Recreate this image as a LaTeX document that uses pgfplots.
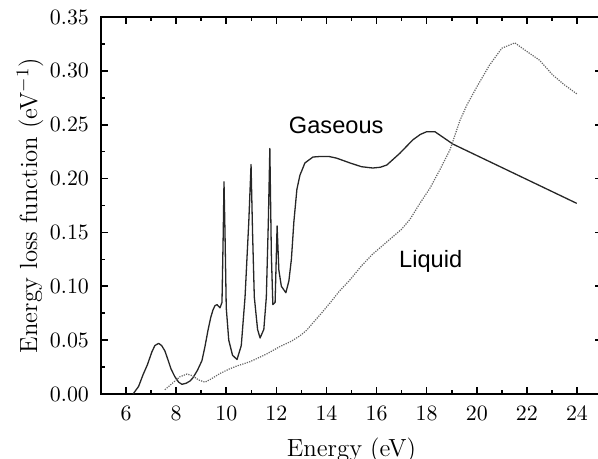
\documentclass[border=0pt]{standalone}
\usepackage{pgfplots}
\pgfplotsset{compat=1.18}
\usepackage{fontspec}
\newfontfamily\arial{Liberation Sans}
\begin{document}
\begin{tikzpicture}
\begin{axis}[
  scale only axis,
  width=250.5pt, height=188.5pt,
  xmin=5, xmax=25, ymin=0, ymax=0.35,
  xtick={6,8,...,24},
  minor xtick={7,9,...,23},
  ytick={0,0.05,...,0.351},
  minor ytick={0.025,0.075,...,0.33},
  tick align=inside,
  major tick length=3.5pt,
  minor tick length=2pt,
  axis line style={line width=1pt},
  every tick/.style={black, line width=0.8pt},
  yticklabel style={/pgf/number format/fixed, /pgf/number format/fixed zerofill, /pgf/number format/precision=2, xshift=-2.5pt},
  ticklabel style={font=\fontsize{10.5}{12}\selectfont},
  xticklabel style={yshift=-2.5pt},
  scaled y ticks=false,
  xlabel={Energy (eV)},
  ylabel={Energy loss function (eV$^{-1}$)},
  label style={font=\fontsize{12.4}{14}\selectfont},
  xlabel style={at={(axis description cs:0.5,-0.167)}, anchor=base},
  ylabel style={at={(axis description cs:-0.1277,0.5)}, anchor=base},
  clip=false,
]
\addplot[black!85, line width=0.65pt, line join=round] coordinates {
(6.28,0) (6.5,0.007) (6.68,0.018) (6.85,0.027) (7.03,0.039) (7.15,0.045) (7.3,0.047)
(7.42,0.045) (7.55,0.040) (7.67,0.032) (7.8,0.023) (7.95,0.016) (8.1,0.011) (8.23,0.009)
(8.4,0.010) (8.55,0.012) (8.67,0.015) (8.85,0.022) (9.03,0.031) (9.15,0.044) (9.27,0.059)
(9.38,0.071) (9.47,0.078) (9.55,0.082) (9.63,0.083) (9.75,0.080) (9.83,0.085) (9.88,0.150)
(9.91,0.197) (9.95,0.150) (10.0,0.080) (10.1,0.050) (10.25,0.036) (10.43,0.032)
(10.6,0.045) (10.75,0.090) (10.9,0.160) (10.99,0.213) (11.05,0.150) (11.12,0.090)
(11.25,0.060) (11.35,0.052) (11.5,0.060) (11.6,0.090) (11.68,0.160) (11.74,0.228)
(11.8,0.130) (11.86,0.083) (11.95,0.085) (12.03,0.156) (12.1,0.115) (12.2,0.100)
(12.38,0.094) (12.5,0.105) (12.6,0.125) (12.7,0.160) (12.82,0.190) (12.94,0.203)
(13.14,0.2145) (13.46,0.220) (13.74,0.2205) (14.1,0.2205) (14.4,0.219) (14.94,0.2145)
(15.4,0.211) (15.85,0.2098) (16.15,0.2105) (16.41,0.2126) (16.93,0.2235) (17.45,0.236)
(17.75,0.241) (18.0,0.2435) (18.33,0.2435) (19.05,0.232) (23.99,0.177)
};
\addplot[black!60, line width=0.6pt, dash pattern=on 0.6pt off 0.6pt] coordinates {
(7.55,0.004) (7.9,0.011) (8.15,0.016) (8.43,0.0185) (8.65,0.017) (8.9,0.013) (9.15,0.011)
(9.4,0.014) (9.75,0.019) (10.1,0.023) (10.42,0.026) (10.95,0.030) (11.6,0.037)
(12.14,0.044) (12.6,0.049) (12.94,0.054) (13.2,0.059) (13.46,0.066) (13.8,0.075)
(14.14,0.0845) (14.5,0.095) (14.94,0.106) (15.4,0.119) (15.85,0.130) (16.25,0.138)
(16.65,0.146) (17.0,0.153) (17.33,0.162) (17.73,0.177) (18.13,0.191) (18.5,0.207)
(18.93,0.2266) (19.33,0.254) (19.6,0.268) (20.0,0.285) (20.5,0.305) (21.0,0.321)
(21.52,0.326) (22.0,0.318) (22.5,0.310) (23.04,0.296) (23.5,0.287) (24.03,0.278)
};
\node[font=\arial\fontsize{11.8}{14}\selectfont, anchor=base] at (axis cs:14.39,0.2414) {Gaseous};
\node[font=\arial\fontsize{11.8}{14}\selectfont, anchor=base] at (axis cs:18.16,0.1170) {Liquid};
\coordinate (SW) at (rel axis cs:0,0);
\coordinate (NE) at (rel axis cs:1,1);
\end{axis}
\pgfresetboundingbox
\path[use as bounding box] ([shift={(-50.5pt,-32.5pt)}]SW) rectangle ([shift={(-2pt,8.5pt)}]NE);
\end{tikzpicture}
\end{document}
